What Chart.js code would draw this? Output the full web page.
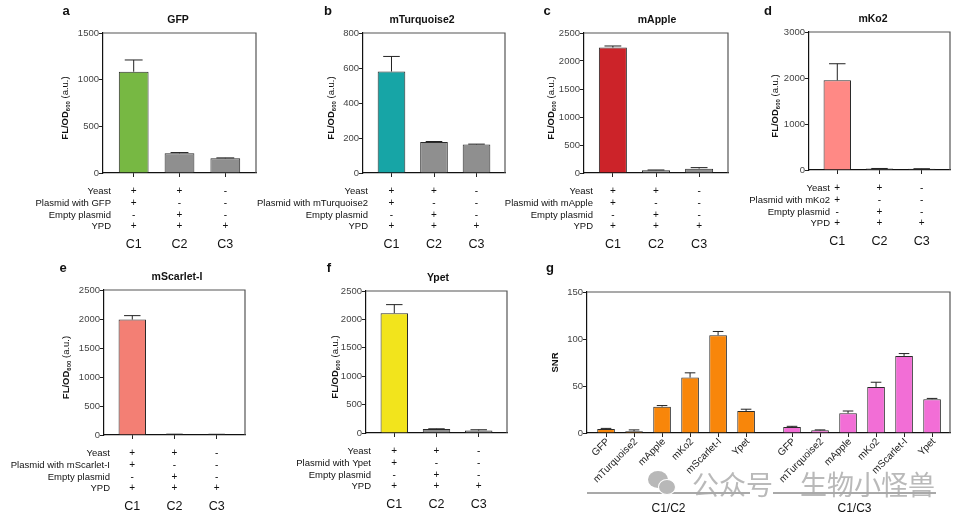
<!DOCTYPE html>
<html>
<head>
<meta charset="utf-8">
<title>FL/OD600 and SNR of fluorescent proteins</title>
<script src="https://cdn.jsdelivr.net/npm/chart.js@4.4.1/dist/chart.umd.min.js"></script>
<style>
  html, body { margin: 0; padding: 0; background: #fff; }
  #figure { position: relative; width: 963px; height: 521px; overflow: hidden; }
  #figure canvas { position: absolute; left: 0; top: 0; z-index: 1; }
  .wm { position: absolute; z-index: 2; color: #a8a8a8; opacity: .8; font-family: "Noto Sans CJK SC", sans-serif; font-size: 27px; line-height: 1; white-space: nowrap; }
  .bubble { position: absolute; z-index: 2; background: #b8b8b8; border-radius: 50%; }
</style>
</head>
<body>
<div id="figure">
  <div class="bubble" style="left:648px;top:471px;width:20px;height:17px;"></div>
  <div class="bubble" style="left:658px;top:479px;width:16px;height:14px;border:1.5px solid #fff;"></div>
  <div class="wm" style="left:692px;top:470px;">公众号</div>
  <div class="wm" style="left:800px;top:470px;">生物小怪兽</div>
</div>
<script>
(function() {
    'use strict';

    // Condiciones y tabla bajo cada panel
    var conditions = ['C1', 'C2', 'C3'];
    var rowYeast = ['+', '+', '-'];
    var rowPlasmid = ['+', '-', '-'];
    var rowEmpty = ['-', '+', '-'];
    var rowYPD = ['+', '+', '+'];

    // FL/OD600 (a.u.): media y desviación
    var gfpValues = [1085, 211, 157];
    var gfpErrors = [126, 8, 5];
    var turqValues = [580, 177, 163];
    var turqErrors = [86, 3, 2];
    var appleValues = [2240, 50, 78];
    var appleErrors = [28, 4, 18];
    var ko2Values = [1950, 30, 25];
    var ko2Errors = [360, 3, 3];
    var scarletValues = [1990, 12, 10];
    var scarletErrors = [68, 2, 2];
    var ypetValues = [2110, 70, 42];
    var ypetErrors = [150, 4, 15];

    var gfpTicks = [0, 500, 1000, 1500];
    var turqTicks = [0, 200, 400, 600, 800];
    var appleTicks = [0, 500, 1000, 1500, 2000, 2500];
    var ko2Ticks = [0, 1000, 2000, 3000];
    var scarletTicks = [0, 500, 1000, 1500, 2000, 2500];
    var ypetTicks = [0, 500, 1000, 1500, 2000, 2500];

    // Panel g: SNR
    var snrLabels = ['GFP', 'mTurquoise2', 'mApple', 'mKo2', 'mScarlet-I', 'Ypet'];
    var snrC1C2 = [4.2, 1.8, 28, 59, 104, 23.3];
    var snrC1C2Err = [0.7, 1.5, 1.2, 5, 4, 2];
    var snrC1C3 = [6.3, 2.8, 21, 49, 82, 36];
    var snrC1C3Err = [0.8, 0.5, 2.4, 5, 2.5, 0.8];
    var snrTicks = [0, 50, 100, 150];
    var snrGroups = ['C1/C2', 'C1/C3'];

    var W = 963, H = 521;
    var AXIS_W = 30, AXIS_H = 4;
    var SNR_GAP = 0.64;
    var GREY = '#8f8f8f', EDGE = '#2b2b2b';
    var FONT = '"Liberation Sans", Arial, Helvetica, sans-serif';

    Chart.defaults.font.family = FONT;
    Chart.defaults.color = '#333';

    var figure = document.getElementById('figure');

    function newCanvas() {
        var c = document.createElement('canvas');
        c.width = W;
        c.height = H;
        figure.appendChild(c);
        return c;
    }

    function fixedTicks(values) {
        return function(axis) {
            axis.ticks = values.map(function(v) { return { value: v }; });
        };
    }

    function baseOptions(box, xMin, xMax, xTicks, yTicks) {
        return {
            responsive: false,
            animation: false,
            events: [],
            layout: {
                padding: { left: box.l - AXIS_W, right: W - box.r, top: box.t, bottom: H - box.b - AXIS_H }
            },
            plugins: { legend: { display: false }, tooltip: { enabled: false } },
            scales: {
                x: {
                    type: 'linear', min: xMin, max: xMax, offset: false,
                    afterBuildTicks: fixedTicks(xTicks),
                    afterFit: function(a) { a.height = AXIS_H; },
                    ticks: { display: false },
                    grid: { drawOnChartArea: false, offset: false, tickLength: 4, color: '#222' },
                    border: { color: '#111', width: 1.2 }
                },
                y: {
                    min: 0, max: yTicks[yTicks.length - 1],
                    afterBuildTicks: fixedTicks(yTicks),
                    afterFit: function(a) { a.width = AXIS_W; },
                    ticks: { font: { size: 9.5 }, color: '#444', padding: 0, callback: function(v) { return String(v); } },
                    grid: { drawOnChartArea: false, tickLength: 4, color: '#222' },
                    border: { color: '#111', width: 1.2 }
                }
            }
        };
    }

    function drawFrame(ctx, area) {
        ctx.save();
        ctx.strokeStyle = '#555';
        ctx.lineWidth = 1.2;
        ctx.beginPath();
        ctx.moveTo(area.left, area.top);
        ctx.lineTo(area.right, area.top);
        ctx.lineTo(area.right, area.bottom);
        ctx.stroke();
        ctx.restore();
    }

    function drawErrorBars(chart, errorSets) {
        var ctx = chart.ctx, y = chart.scales.y;
        ctx.save();
        ctx.strokeStyle = '#222';
        ctx.lineWidth = 1;
        errorSets.forEach(function(errs, di) {
            var ds = chart.data.datasets[di];
            chart.getDatasetMeta(di).data.forEach(function(bar, i) {
                var top = y.getPixelForValue(ds.data[i].y + errs[i]);
                var half = bar.width * 0.3;
                ctx.beginPath();
                ctx.moveTo(bar.x, bar.y);
                ctx.lineTo(bar.x, top);
                ctx.moveTo(bar.x - half, top);
                ctx.lineTo(bar.x + half, top);
                ctx.stroke();
            });
        });
        ctx.restore();
    }

    function drawText(ctx, text, x, y, font, align) {
        ctx.save();
        ctx.font = font;
        ctx.fillStyle = '#111';
        ctx.textAlign = align || 'center';
        ctx.textBaseline = 'middle';
        ctx.fillText(text, x, y);
        ctx.restore();
    }

    function drawYTitle(ctx, x, y, parts) {
        ctx.save();
        ctx.translate(x, y);
        ctx.rotate(-Math.PI / 2);
        ctx.textBaseline = 'middle';
        ctx.textAlign = 'left';
        ctx.fillStyle = '#111';
        var total = 0;
        parts.forEach(function(p) {
            ctx.font = p.font;
            p.w = ctx.measureText(p.text).width;
            total += p.w;
        });
        var cx = -total / 2;
        parts.forEach(function(p) {
            ctx.font = p.font;
            ctx.fillText(p.text, cx, p.dy);
            cx += p.w;
        });
        ctx.restore();
    }

    function drawConditions(chart, p) {
        var ctx = chart.ctx, x = chart.scales.x, base = chart.chartArea.bottom;
        var rows = [
            ['Yeast', rowYeast],
            ['Plasmid with ' + p.title, rowPlasmid],
            ['Empty plasmid', rowEmpty],
            ['YPD', rowYPD]
        ];
        rows.forEach(function(row, r) {
            var y = base + 18.5 + r * 11.7;
            drawText(ctx, row[0], p.labelRight, y, '9.5px ' + FONT, 'right');
            row[1].forEach(function(m, i) {
                drawText(ctx, m, x.getPixelForValue(i + 1), y, '10px ' + FONT);
            });
        });
        conditions.forEach(function(c, i) {
            drawText(ctx, c, x.getPixelForValue(i + 1), base + 72, '12.5px ' + FONT);
        });
    }

    function makeBarPanel(p) {
        new Chart(newCanvas(), {
            type: 'bar',
            data: {
                datasets: [{
                    data: p.values.map(function(v, i) { return { x: i + 1, y: v }; }),
                    backgroundColor: p.values.map(function(v, i) { return i === 0 ? p.color : GREY; }),
                    borderColor: EDGE,
                    borderWidth: 1,
                    barPercentage: 0.65,
                    categoryPercentage: 1
                }]
            },
            options: baseOptions(p.box, 0.33, conditions.length + 0.67, [1, 2, 3], p.ticks),
            plugins: [{
                id: 'panelExtras',
                afterDatasetsDraw: function(chart) {
                    drawErrorBars(chart, [p.errors]);
                },
                afterDraw: function(chart) {
                    var ctx = chart.ctx, area = chart.chartArea;
                    drawFrame(ctx, area);
                    drawText(ctx, p.letter, p.letterAt[0], p.letterAt[1], 'bold 13px ' + FONT);
                    drawText(ctx, p.title, p.titleX, area.top - 13, 'bold 10.5px ' + FONT);
                    drawYTitle(ctx, p.yTitleX, (area.top + area.bottom) / 2 + 5, [
                        { text: 'FL/OD', font: 'bold 9.5px ' + FONT, dy: 0 },
                        { text: '600', font: 'bold 6px ' + FONT, dy: 3 },
                        { text: ' (a.u.)', font: '9.5px ' + FONT, dy: 0 }
                    ]);
                    drawConditions(chart, p);
                }
            }]
        });
    }

    function makeSnrPanel() {
        var box = { l: 587, r: 950, t: 292, b: 433 };
        var n = snrLabels.length;
        var pos1 = snrLabels.map(function(l, i) { return i; });
        var pos2 = snrLabels.map(function(l, i) { return i + n + SNR_GAP; });

        new Chart(newCanvas(), {
            type: 'bar',
            data: {
                datasets: [{
                    data: snrC1C2.map(function(v, i) { return { x: pos1[i], y: v }; }),
                    backgroundColor: '#f8860a',
                    borderColor: EDGE, borderWidth: 1,
                    barPercentage: 0.63, categoryPercentage: 1, grouped: false
                }, {
                    data: snrC1C3.map(function(v, i) { return { x: pos2[i], y: v }; }),
                    backgroundColor: '#f26ed6',
                    borderColor: EDGE, borderWidth: 1,
                    barPercentage: 0.63, categoryPercentage: 1, grouped: false
                }]
            },
            options: baseOptions(box, -0.68, 12.28, pos1.concat(pos2), snrTicks),
            plugins: [{
                id: 'snrExtras',
                afterDatasetsDraw: function(chart) {
                    drawErrorBars(chart, [snrC1C2Err, snrC1C3Err]);
                },
                afterDraw: function(chart) {
                    var ctx = chart.ctx, area = chart.chartArea, x = chart.scales.x;
                    drawFrame(ctx, area);
                    drawText(ctx, 'g', 550, 268, 'bold 13px ' + FONT);
                    drawYTitle(ctx, 555, (area.top + area.bottom) / 2, [
                        { text: 'SNR', font: 'bold 9.5px ' + FONT, dy: 0 }
                    ]);

                    // Etiquetas giradas del eje x
                    [pos1, pos2].forEach(function(pos) {
                        pos.forEach(function(v, i) {
                            ctx.save();
                            ctx.translate(x.getPixelForValue(v) + 2, area.bottom + 7);
                            ctx.rotate(-Math.PI / 4);
                            ctx.font = '10px ' + FONT;
                            ctx.fillStyle = '#222';
                            ctx.textAlign = 'right';
                            ctx.textBaseline = 'middle';
                            ctx.fillText(snrLabels[i], 0, 0);
                            ctx.restore();
                        });
                    });

                    [pos1, pos2].forEach(function(pos, g) {
                        var x0 = x.getPixelForValue(pos[0] - 0.68);
                        var x1 = x.getPixelForValue(pos[n - 1] + 0.14);
                        ctx.save();
                        ctx.strokeStyle = '#555';
                        ctx.lineWidth = 1.2;
                        ctx.beginPath();
                        ctx.moveTo(x0, 493);
                        ctx.lineTo(x1, 493);
                        ctx.stroke();
                        ctx.restore();
                        drawText(ctx, snrGroups[g], (x0 + x1) / 2, 509, '12px ' + FONT);
                    });
                }
            }]
        });
    }

    var panels = [
        { letter: 'a', title: 'GFP', color: '#77b843', values: gfpValues, errors: gfpErrors, ticks: gfpTicks,
          box: { l: 103, r: 256, t: 33, b: 173 }, titleX: 178, yTitleX: 65, labelRight: 111, letterAt: [66, 11] },
        { letter: 'b', title: 'mTurquoise2', color: '#17a5a6', values: turqValues, errors: turqErrors, ticks: turqTicks,
          box: { l: 363, r: 505, t: 33, b: 173 }, titleX: 422, yTitleX: 331, labelRight: 368, letterAt: [328, 11] },
        { letter: 'c', title: 'mApple', color: '#cc2329', values: appleValues, errors: appleErrors, ticks: appleTicks,
          box: { l: 584, r: 728, t: 33, b: 173 }, titleX: 657, yTitleX: 551, labelRight: 593, letterAt: [547, 11] },
        { letter: 'd', title: 'mKo2', color: '#ff8985', values: ko2Values, errors: ko2Errors, ticks: ko2Ticks,
          box: { l: 809, r: 950, t: 32, b: 170 }, titleX: 873, yTitleX: 775, labelRight: 830, letterAt: [768, 11] },
        { letter: 'e', title: 'mScarlet-I', color: '#f37f74', values: scarletValues, errors: scarletErrors, ticks: scarletTicks,
          box: { l: 104, r: 245, t: 290, b: 435 }, titleX: 177, yTitleX: 66, labelRight: 110, letterAt: [63, 268] },
        { letter: 'f', title: 'Ypet', color: '#f2e41c', values: ypetValues, errors: ypetErrors, ticks: ypetTicks,
          box: { l: 366, r: 507, t: 291, b: 433 }, titleX: 438, yTitleX: 335, labelRight: 371, letterAt: [329, 268] }
    ];

    panels.forEach(makeBarPanel);
    makeSnrPanel();
})();
</script>
</body>
</html>
